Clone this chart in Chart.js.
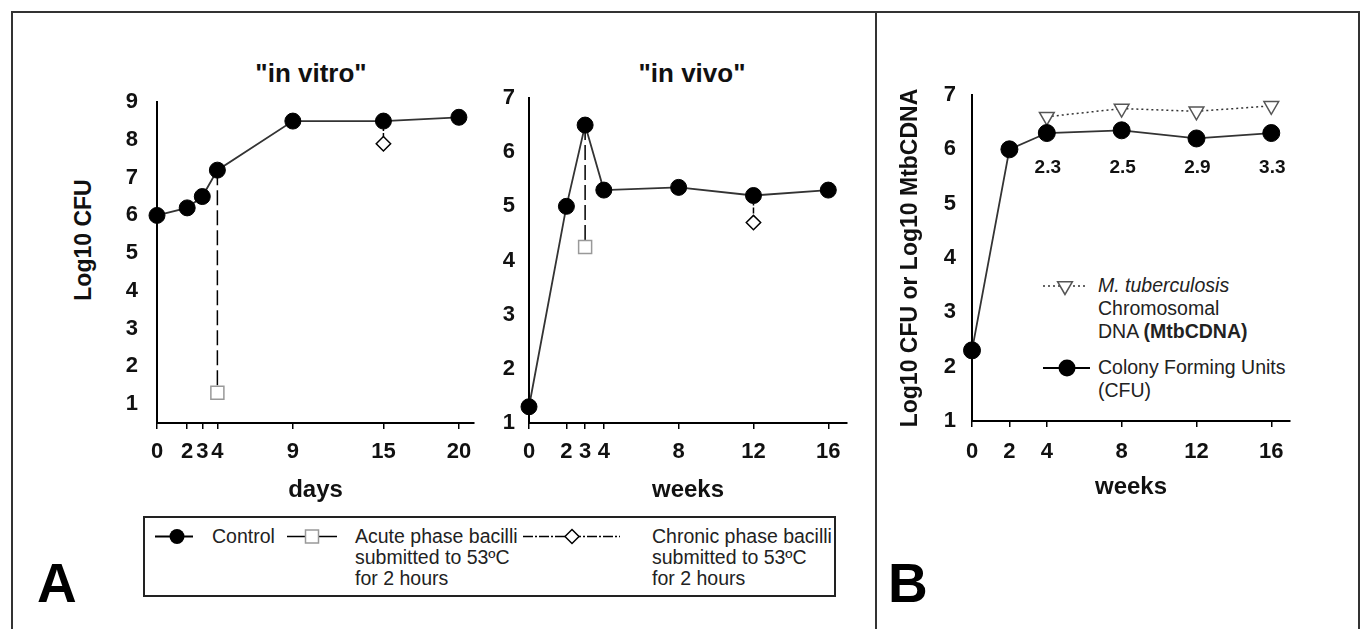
<!DOCTYPE html>
<html>
<head>
<meta charset="utf-8">
<script src="https://cdn.jsdelivr.net/npm/chart.js@4.4.1/dist/chart.umd.min.js"></script>
<style>
  html, body { margin: 0; padding: 0; background: #fff; }
  body { width: 1361px; height: 629px; overflow: hidden; position: relative;
         font-family: "Liberation Sans", Arial, Helvetica, sans-serif; }
  .abs { position: absolute; white-space: nowrap; }
  canvas { position: absolute; }
  .ttl { font-weight: bold; font-size: 26px; line-height: 26px; color: #111; text-align: center; width: 300px; }
  .leg { font-size: 19.5px; line-height: 19.5px; color: #222; }
  .big { font-weight: bold; font-size: 55px; line-height: 55px; color: #000; }
  .ytitle { font-weight: bold; font-size: 23px; line-height: 23px; color: #111;
            transform: translate(-50%, -50%) rotate(-90deg); }
</style>
</head>
<body>
<svg class="abs" style="left:0;top:0" width="1361" height="629">
  <!-- frame -->
  <path d="M12,629 V12 H1359 V629" fill="none" stroke="#333" stroke-width="2"/>
  <line x1="876" y1="12" x2="876" y2="629" stroke="#333" stroke-width="2"/>
  <!-- legend A box -->
  <rect x="144" y="517" width="691" height="79" fill="none" stroke="#222" stroke-width="2"/>
  <line x1="155" y1="536.5" x2="193" y2="536.5" stroke="#000" stroke-width="2"/>
  <circle cx="177" cy="536.5" r="7.5" fill="#000"/>
  <line x1="287" y1="536.5" x2="337" y2="536.5" stroke="#000" stroke-width="1.5"/>
  <rect x="305.5" y="530" width="13" height="13" fill="#fff" stroke="#999" stroke-width="1.5"/>
  <line x1="523" y1="536.5" x2="620" y2="536.5" stroke="#000" stroke-width="1.3" stroke-dasharray="10 2 2 2"/>
  <polygon points="572,529.5 579,536.5 572,543.5 565,536.5" fill="#fff" stroke="#000" stroke-width="1.5"/>
  <!-- legend B symbols -->
  <line x1="1043" y1="286" x2="1085" y2="286" stroke="#333" stroke-width="1.5" stroke-dasharray="2 3"/>
  <polygon points="1065,294.5 1057.6,281.75 1072.4,281.75" fill="#fff" stroke="#555" stroke-width="1.5"/>
  <line x1="1043" y1="368" x2="1090" y2="368" stroke="#000" stroke-width="2"/>
  <circle cx="1067" cy="368" r="8.5" fill="#000"/>
</svg>

<div class="abs ttl" style="left:161px;top:60px">"in vitro"</div>
<div class="abs ttl" style="left:542px;top:60px">"in vivo"</div>
<div class="abs ytitle" style="left:83px;top:240px">Log10 CFU</div>

<div class="abs leg" style="left:212px;top:527px">Control</div>
<div class="abs leg" style="left:355px;top:527px">Acute phase bacilli</div>
<div class="abs leg" style="left:355px;top:548px">submitted to 53ºC</div>
<div class="abs leg" style="left:355px;top:569px">for 2 hours</div>
<div class="abs leg" style="left:652px;top:527px">Chronic phase bacilli</div>
<div class="abs leg" style="left:652px;top:548px">submitted to 53ºC</div>
<div class="abs leg" style="left:652px;top:569px">for 2 hours</div>

<div class="abs leg" style="left:1098px;top:276px"><i>M. tuberculosis</i></div>
<div class="abs leg" style="left:1098px;top:299px">Chromosomal</div>
<div class="abs leg" style="left:1098px;top:322px">DNA <b>(MtbCDNA)</b></div>
<div class="abs leg" style="left:1098px;top:358px">Colony Forming Units</div>
<div class="abs leg" style="left:1098px;top:381px">(CFU)</div>

<div class="abs big" style="left:37px;top:556px">A</div>
<div class="abs big" style="left:888px;top:556px">B</div>

<canvas id="c1" width="450" height="440" style="left:40px;top:70px"></canvas>
<canvas id="c2" width="370" height="440" style="left:490px;top:70px"></canvas>
<canvas id="c3" width="470" height="450" style="left:880px;top:60px"></canvas>

<script>
// ---------------- data ----------------
const vitroDays      = [0, 2, 3, 4, 9, 15, 20];
const vitroControl   = [6.0, 6.2, 6.5, 7.2, 8.5, 8.5, 8.6];
const vitroAcuteDay  = [4, 4];
const vitroAcute     = [7.2, 1.3];
const vitroChronicDay= [15, 15];
const vitroChronic   = [8.5, 7.9];
const vitroYTicks    = [1, 2, 3, 4, 5, 6, 7, 8, 9];

const vivoWeeks      = [0, 2, 3, 4, 8, 12, 16];
const vivoControl    = [1.3, 5.0, 6.5, 5.3, 5.35, 5.2, 5.3];
const vivoAcuteWeek  = [3, 3];
const vivoAcute      = [6.5, 4.25];
const vivoChronicWeek= [12, 12];
const vivoChronic    = [5.2, 4.7];
const vivoYTicks     = [1, 2, 3, 4, 5, 6, 7];

const bWeeks         = [0, 2, 4, 8, 12, 16];
const bCFU           = [2.3, 6.0, 6.3, 6.35, 6.2, 6.3];
const bMtbWeeks      = [4, 8, 12, 16];
const bMtbDNA        = [6.6, 6.75, 6.7, 6.8];
const bRatioLabels   = ['2.3', '2.5', '2.9', '3.3'];
const bXTicks        = [0, 2, 4, 8, 12, 16];
const bYTicks        = [1, 2, 3, 4, 5, 6, 7];

// ---------------- helpers ----------------
const FONT = '"Liberation Sans", Arial, Helvetica, sans-serif';
Chart.defaults.font.family = FONT;
const xy = (xs, ys) => xs.map((x, i) => ({ x, y: ys[i] }));

function xScale(min, max, ticks, title, h, tickPad, titlePad) {
  return {
    type: 'linear', min, max,
    afterBuildTicks: a => { a.ticks = ticks.map(v => ({ value: v })); },
    afterFit: s => { s.height = h; },
    ticks: { autoSkip: false, maxRotation: 0, minRotation: 0, padding: tickPad, color: '#111',
             font: { size: 22, weight: 'bold' }, callback: v => String(v) },
    grid: { drawOnChartArea: false, drawTicks: true, tickLength: 6, color: '#000', lineWidth: 1.5 },
    border: { display: true, color: '#000', width: 2 },
    title: { display: true, text: title, color: '#111', font: { size: 24, weight: 'bold' },
             padding: { top: 0, bottom: titlePad } }
  };
}
function yScale(min, max, ticks, w, tickPad, title) {
  return {
    type: 'linear', min, max,
    afterBuildTicks: a => { a.ticks = ticks.map(v => ({ value: v })); },
    afterFit: s => { s.width = w; },
    ticks: { padding: tickPad, color: '#111', font: { size: 22, weight: 'bold' }, callback: v => String(v) },
    grid: { drawOnChartArea: false, drawTicks: false },
    border: { display: true, color: '#000', width: 2 },
    title: title || { display: false }
  };
}
function controlSet(xs, ys, r) {
  return { data: xy(xs, ys), borderColor: '#333', borderWidth: 1.8, pointRadius: r,
           pointBackgroundColor: '#000', pointBorderColor: '#000', pointBorderWidth: 1, clip: false };
}
function acuteSet(xs, ys) {
  return { data: xy(xs, ys), borderColor: '#000', borderWidth: 1.5, borderDash: [15, 5],
           pointStyle: 'rect', pointRadius: [0, 9.2], pointBackgroundColor: '#fff',
           pointBorderColor: '#999', pointBorderWidth: 1.5, clip: false };
}
function chronicSet(xs, ys) {
  return { data: xy(xs, ys), borderColor: '#000', borderWidth: 1.5, borderDash: [6, 2, 2, 2],
           pointStyle: 'rectRot', pointRadius: [0, 7.2], pointBackgroundColor: '#fff',
           pointBorderColor: '#000', pointBorderWidth: 1.5, clip: false };
}
const common = {
  responsive: false, animation: false, devicePixelRatio: 1, events: [],
  plugins: { legend: { display: false }, tooltip: { enabled: false }, title: { display: false } }
};

// ---------------- chart 1: in vitro ----------------
new Chart(document.getElementById('c1'), {
  type: 'line',
  data: { datasets: [
    controlSet(vitroDays, vitroControl, 8),
    acuteSet(vitroAcuteDay, vitroAcute),
    chronicSet(vitroChronicDay, vitroChronic)
  ] },
  options: Object.assign({}, common, {
    layout: { padding: { top: 27, right: 16, left: 0, bottom: 0 } },
    scales: {
      x: xScale(0, 21, vitroDays, 'days', 87, 10, 5),
      y: yScale(0.5, 9, vitroYTicks, 117, 19)
    }
  })
});

// ---------------- chart 2: in vivo ----------------
new Chart(document.getElementById('c2'), {
  type: 'line',
  data: { datasets: [
    controlSet(vivoWeeks, vivoControl, 8),
    acuteSet(vivoAcuteWeek, vivoAcute),
    chronicSet(vivoChronicWeek, vivoChronic)
  ] },
  options: Object.assign({}, common, {
    layout: { padding: { top: 28, right: 13, left: 0, bottom: 0 } },
    scales: {
      x: xScale(0, 17, vivoWeeks, 'weeks', 87, 10, 5),
      y: yScale(1, 7, vivoYTicks, 39, 14)
    }
  })
});

// ---------------- chart 3: panel B ----------------
const ratioLabelsPlugin = {
  id: 'ratioLabels',
  afterDatasetsDraw(chart) {
    const { ctx, chartArea, scales: { x } } = chart;
    ctx.save();
    ctx.font = 'bold 19px ' + FONT;
    ctx.fillStyle = '#111';
    ctx.textAlign = 'center';
    ctx.textBaseline = 'middle';
    bRatioLabels.forEach((t, i) => {
      ctx.fillText(t, x.getPixelForValue(bMtbWeeks[i]) + 1, chartArea.top + 73);
    });
    ctx.restore();
  }
};
new Chart(document.getElementById('c3'), {
  type: 'line',
  data: { datasets: [
    controlSet(bWeeks, bCFU, 8.5),
    { data: xy(bMtbWeeks, bMtbDNA), borderColor: '#333', borderWidth: 1.5, borderDash: [2, 3],
      pointStyle: 'triangle', pointRotation: 180, pointRadius: 8.5, pointBackgroundColor: '#fff',
      pointBorderColor: '#555', pointBorderWidth: 1.5, clip: false }
  ] },
  options: Object.assign({}, common, {
    layout: { padding: { top: 35, right: 60, left: 0, bottom: 0 } },
    scales: {
      x: xScale(0, 17, bXTicks, 'weeks', 89, 12, 8),
      y: yScale(1, 7, bYTicks, 92, 16, {
        display: true, text: 'Log10 CFU or Log10 MtbCDNA', color: '#111',
        font: { size: 23, weight: 'bold' }, padding: { top: 17, bottom: 0 }
      })
    }
  }),
  plugins: [ratioLabelsPlugin]
});
</script>
</body>
</html>
